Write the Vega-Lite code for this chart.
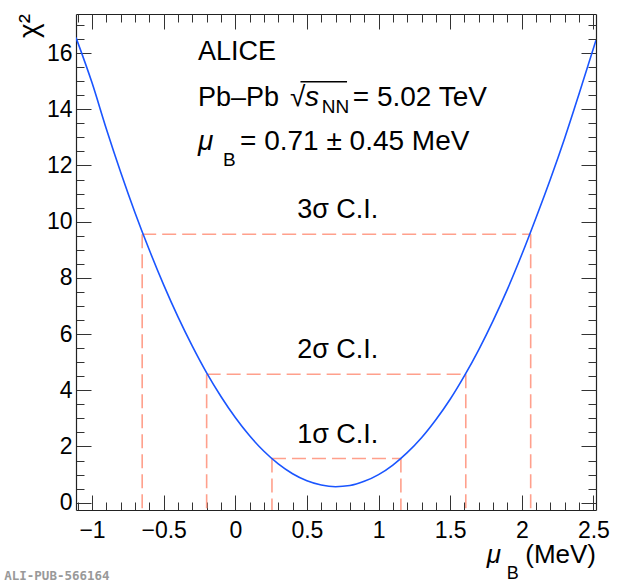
{
  "$schema": "https://vega.github.io/schema/vega-lite/v6.json",
  "width": 520,
  "height": 496,
  "autosize": "none",
  "padding": {"left": 76, "top": 14, "right": 24, "bottom": 74},
  "background": "white",
  "config": {
    "view": {"stroke": null},
    "axis": {"grid": false, "labelFont": "Liberation Sans", "labelFontSize": 23, "labelColor": "black", "tickColor": "#333", "tickWidth": 1, "domainColor": "#222", "domainWidth": 1.2, "format": "~g"},
    "text": {"font": "Liberation Sans", "fontSize": 28, "color": "black"}
  },
  "datasets": {
    "curve": [
      {"mu": -1.112, "chi2": 16.55}, {"mu": -1.0, "chi2": 14.94}, {"mu": -0.9, "chi2": 13.3},
      {"mu": -0.8, "chi2": 11.76}, {"mu": -0.7, "chi2": 10.32}, {"mu": -0.6, "chi2": 8.99},
      {"mu": -0.5, "chi2": 7.75}, {"mu": -0.4, "chi2": 6.61}, {"mu": -0.3, "chi2": 5.57},
      {"mu": -0.2, "chi2": 4.62}, {"mu": -0.1, "chi2": 3.78}, {"mu": 0.0, "chi2": 3.03},
      {"mu": 0.1, "chi2": 2.38}, {"mu": 0.2, "chi2": 1.83}, {"mu": 0.3, "chi2": 1.38},
      {"mu": 0.4, "chi2": 1.03}, {"mu": 0.5, "chi2": 0.78}, {"mu": 0.6, "chi2": 0.63},
      {"mu": 0.7, "chi2": 0.57}, {"mu": 0.8, "chi2": 0.61}, {"mu": 0.9, "chi2": 0.76},
      {"mu": 1.0, "chi2": 1.0}, {"mu": 1.1, "chi2": 1.34}, {"mu": 1.2, "chi2": 1.78},
      {"mu": 1.3, "chi2": 2.31}, {"mu": 1.4, "chi2": 2.95}, {"mu": 1.5, "chi2": 3.68},
      {"mu": 1.6, "chi2": 4.52}, {"mu": 1.7, "chi2": 5.45}, {"mu": 1.8, "chi2": 6.48},
      {"mu": 1.9, "chi2": 7.6}, {"mu": 2.0, "chi2": 8.83}, {"mu": 2.1, "chi2": 10.15},
      {"mu": 2.2, "chi2": 11.52}, {"mu": 2.3, "chi2": 12.98}, {"mu": 2.4, "chi2": 14.55},
      {"mu": 2.518, "chi2": 16.46}
    ],
    "ci": [
      {"ci": "1σ C.I.", "level": 1.57, "lo": 0.256, "hi": 1.156},
      {"ci": "2σ C.I.", "level": 4.57, "lo": -0.2, "hi": 1.609},
      {"ci": "3σ C.I.", "level": 9.55, "lo": -0.65, "hi": 2.062}
    ],
    "one": [{}]
  },
  "resolve": {"axis": {"x": "independent", "y": "independent"}},
  "layer": [
    {
      "data": {"name": "ci"},
      "mark": {"type": "rule", "color": "#ffa08c", "strokeWidth": 1.6, "strokeDash": [14, 6]},
      "encoding": {
        "x": {"field": "lo", "type": "quantitative",
          "axis": {"orient": "bottom", "title": null, "labels": false, "domain": false, "tickSize": -15,
            "values": [-1, -0.5, 0, 0.5, 1, 1.5, 2, 2.5]}},
        "x2": {"field": "hi"},
        "y": {"field": "level", "type": "quantitative",
          "axis": {"orient": "left", "title": null, "labels": false, "domain": false, "tickSize": -15,
            "values": [0, 2, 4, 6, 8, 10, 12, 14, 16]}}
      }
    },
    {
      "data": {"name": "ci"},
      "transform": [{"fold": ["lo", "hi"], "as": ["side", "pos"]}],
      "mark": {"type": "rule", "color": "#ffa08c", "strokeWidth": 1.6, "strokeDash": [14, 6]},
      "encoding": {
        "x": {"field": "pos", "type": "quantitative",
          "axis": {"orient": "bottom", "title": null, "labels": false, "domain": false, "tickSize": -8,
            "values": [-1.1, -1, -0.9, -0.8, -0.7, -0.6, -0.5, -0.4, -0.3, -0.2, -0.1, 0, 0.1, 0.2, 0.3, 0.4, 0.5, 0.6, 0.7, 0.8, 0.9, 1, 1.1, 1.2, 1.3, 1.4, 1.5, 1.6, 1.7, 1.8, 1.9, 2, 2.1, 2.2, 2.3, 2.4, 2.5]}},
        "y": {"field": "level", "type": "quantitative",
          "axis": {"orient": "left", "title": null, "labels": false, "domain": false, "tickSize": -8,
            "values": [0, 0.5, 1, 1.5, 2, 2.5, 3, 3.5, 4, 4.5, 5, 5.5, 6, 6.5, 7, 7.5, 8, 8.5, 9, 9.5, 10, 10.5, 11, 11.5, 12, 12.5, 13, 13.5, 14, 14.5, 15, 15.5, 16, 16.5, 17]}},
        "y2": {"datum": -0.26}
      }
    },
    {
      "data": {"name": "curve"},
      "mark": {"type": "line", "color": "#1a55ff", "strokeWidth": 1.6, "clip": true, "interpolate": "monotone"},
      "encoding": {
        "x": {"field": "mu", "type": "quantitative",
          "scale": {"domain": [-1.112, 2.518], "nice": false, "zero": false},
          "axis": {"orient": "bottom", "title": null, "ticks": false, "domain": true, "labelPadding": 9,
            "values": [-1, -0.5, 0, 0.5, 1, 1.5, 2, 2.5]}},
        "y": {"field": "chi2", "type": "quantitative",
          "scale": {"domain": [-0.26, 17.39], "nice": false, "zero": false},
          "axis": {"orient": "left", "title": null, "ticks": false, "domain": true, "labelPadding": 4,
            "values": [0, 2, 4, 6, 8, 10, 12, 14, 16]}}
      }
    },
    {
      "data": {"name": "ci"},
      "mark": {"type": "text", "align": "center", "baseline": "alphabetic", "dy": -16, "fontSize": 27},
      "encoding": {
        "text": {"field": "ci"},
        "x": {"datum": 0.715, "type": "quantitative",
          "axis": {"orient": "top", "title": null, "labels": false, "domain": true, "tickSize": -15,
            "values": [-1, -0.5, 0, 0.5, 1, 1.5, 2, 2.5]}},
        "y": {"field": "level", "type": "quantitative",
          "axis": {"orient": "right", "title": null, "labels": false, "domain": true, "tickSize": -15,
            "values": [0, 2, 4, 6, 8, 10, 12, 14, 16]}}
      }
    },
    {
      "data": {"name": "one"},
      "mark": {"type": "text", "align": "left", "baseline": "alphabetic", "fontSize": 27, "text": "ALICE"},
      "encoding": {
        "x": {"datum": -0.26, "type": "quantitative",
          "axis": {"orient": "top", "title": null, "labels": false, "domain": false, "tickSize": -8,
            "values": [-1.1, -1, -0.9, -0.8, -0.7, -0.6, -0.5, -0.4, -0.3, -0.2, -0.1, 0, 0.1, 0.2, 0.3, 0.4, 0.5, 0.6, 0.7, 0.8, 0.9, 1, 1.1, 1.2, 1.3, 1.4, 1.5, 1.6, 1.7, 1.8, 1.9, 2, 2.1, 2.2, 2.3, 2.4, 2.5]}},
        "y": {"datum": 15.77, "type": "quantitative",
          "axis": {"orient": "right", "title": null, "labels": false, "domain": false, "tickSize": -8,
            "values": [0, 0.5, 1, 1.5, 2, 2.5, 3, 3.5, 4, 4.5, 5, 5.5, 6, 6.5, 7, 7.5, 8, 8.5, 9, 9.5, 10, 10.5, 11, 11.5, 12, 12.5, 13, 13.5, 14, 14.5, 15, 15.5, 16, 16.5, 17]}}
      }
    },
    {
      "data": {"name": "one"},
      "mark": {"type": "text", "align": "left", "baseline": "alphabetic", "fontSize": 27, "text": "Pb–Pb"},
      "encoding": {"x": {"datum": -0.26, "type": "quantitative", "axis": null}, "y": {"datum": 14.12, "type": "quantitative", "axis": null}}
    },
    {
      "data": {"name": "one"},
      "mark": {"type": "text", "align": "left", "baseline": "alphabetic", "text": "√"},
      "encoding": {"x": {"datum": 0.382, "type": "quantitative", "axis": null}, "y": {"datum": 14.12, "type": "quantitative", "axis": null}}
    },
    {
      "data": {"name": "one"},
      "mark": {"type": "rule", "color": "black", "strokeWidth": 1.3},
      "encoding": {"x": {"datum": 0.455, "type": "quantitative", "axis": null}, "x2": {"datum": 0.78}, "y": {"datum": 14.98, "type": "quantitative", "axis": null}}
    },
    {
      "data": {"name": "one"},
      "mark": {"type": "text", "align": "left", "baseline": "alphabetic", "fontStyle": "italic", "text": "s"},
      "encoding": {"x": {"datum": 0.486, "type": "quantitative", "axis": null}, "y": {"datum": 14.12, "type": "quantitative", "axis": null}}
    },
    {
      "data": {"name": "one"},
      "mark": {"type": "text", "align": "left", "baseline": "alphabetic", "fontSize": 19, "text": "NN"},
      "encoding": {"x": {"datum": 0.604, "type": "quantitative", "axis": null}, "y": {"datum": 13.87, "type": "quantitative", "axis": null}}
    },
    {
      "data": {"name": "one"},
      "mark": {"type": "text", "align": "left", "baseline": "alphabetic", "text": "= 5.02 TeV"},
      "encoding": {"x": {"datum": 0.82, "type": "quantitative", "axis": null}, "y": {"datum": 14.12, "type": "quantitative", "axis": null}}
    },
    {
      "data": {"name": "one"},
      "mark": {"type": "text", "align": "left", "baseline": "alphabetic", "fontStyle": "italic", "text": "μ"},
      "encoding": {"x": {"datum": -0.26, "type": "quantitative", "axis": null}, "y": {"datum": 12.55, "type": "quantitative", "axis": null}}
    },
    {
      "data": {"name": "one"},
      "mark": {"type": "text", "align": "left", "baseline": "alphabetic", "fontSize": 19, "text": "B"},
      "encoding": {"x": {"datum": -0.086, "type": "quantitative", "axis": null}, "y": {"datum": 11.98, "type": "quantitative", "axis": null}}
    },
    {
      "data": {"name": "one"},
      "mark": {"type": "text", "align": "left", "baseline": "alphabetic", "text": "= 0.71 ± 0.45 MeV"},
      "encoding": {"x": {"datum": 0.033, "type": "quantitative", "axis": null}, "y": {"datum": 12.55, "type": "quantitative", "axis": null}}
    },
    {
      "data": {"name": "one"},
      "mark": {"type": "text", "align": "right", "baseline": "middle", "angle": 270, "fontSize": 28, "text": "χ²"},
      "encoding": {"x": {"datum": -1.43, "type": "quantitative", "axis": null}, "y": {"datum": 17.39, "type": "quantitative", "axis": null}}
    },
    {
      "data": {"name": "one"},
      "mark": {"type": "text", "align": "left", "baseline": "alphabetic", "fontStyle": "italic", "fontSize": 26, "text": "μ"},
      "encoding": {"x": {"datum": 1.755, "type": "quantitative", "axis": null}, "y": {"datum": -2.15, "type": "quantitative", "axis": null}}
    },
    {
      "data": {"name": "one"},
      "mark": {"type": "text", "align": "left", "baseline": "alphabetic", "fontSize": 18, "text": "B"},
      "encoding": {"x": {"datum": 1.895, "type": "quantitative", "axis": null}, "y": {"datum": -2.7, "type": "quantitative", "axis": null}}
    },
    {
      "data": {"name": "one"},
      "mark": {"type": "text", "align": "right", "baseline": "alphabetic", "fontSize": 26, "text": "(MeV)"},
      "encoding": {"x": {"datum": 2.518, "type": "quantitative", "axis": null}, "y": {"datum": -2.15, "type": "quantitative", "axis": null}}
    },
    {
      "data": {"name": "one"},
      "mark": {"type": "text", "align": "left", "baseline": "alphabetic", "font": "DejaVu Sans Mono", "fontWeight": "bold", "fontSize": 12.5, "color": "#999999", "text": "ALI-PUB-566164"},
      "encoding": {"x": {"datum": -1.613, "type": "quantitative", "axis": null}, "y": {"datum": -2.75, "type": "quantitative", "axis": null}}
    }
  ]
}
